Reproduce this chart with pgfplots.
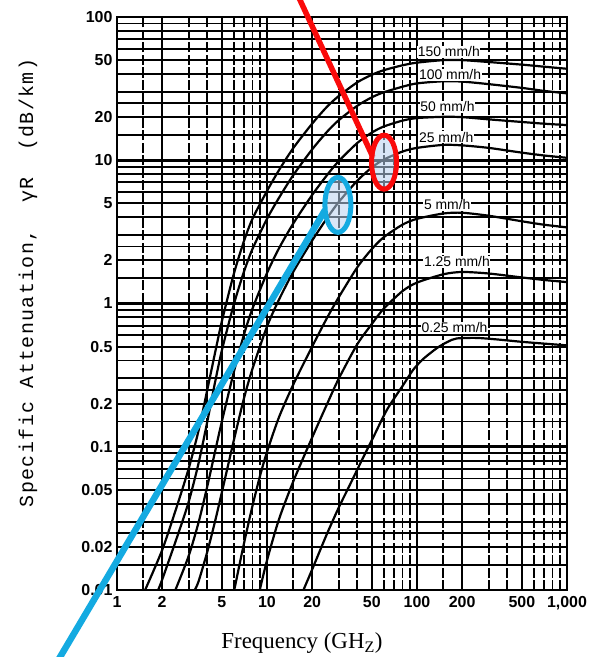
\documentclass[border=0pt]{standalone}
\usepackage{pgfplots}
\pgfplotsset{compat=1.18}
\usepackage{fontspec}
\setmainfont{Liberation Sans}
\newfontfamily\serifx{Liberation Serif}
\newfontfamily\monox[LetterSpace=7]{Liberation Mono}
\definecolor{annred}{RGB}{250,10,10}
\definecolor{annblue}{RGB}{20,170,225}
\definecolor{ellfill}{RGB}{185,210,240}
\begin{document}
\begin{tikzpicture}[crv/.style={black, line width=2.2bp, smooth, tension=0.45, mark=none}]
\begin{axis}[
 name=ax,
 xmode=log, ymode=log,
 width=450bp, height=573bp, scale only axis,
 xmin=1, xmax=1000, ymin=0.01, ymax=100,
 xtick={1,2,5,10,20,50,100,200,500,1000},
 xticklabels={1,2,5,10,20,50,100,200,500,{1,000}},
 ytick={0.01,0.02,0.05,0.1,0.2,0.5,1,2,5,10,20,50,100},
 yticklabels={0.01,0.02,0.05,0.1,0.2,0.5,1,2,5,10,20,50,100},
 minor xtick={1.5,3,4,6,7,8,9,15,30,40,60,70,80,90,150,300,400,600,700,800,900},
 minor ytick={0.015,0.025,0.03,0.04,0.06,0.07,0.08,0.09,0.15,0.25,0.3,0.4,0.6,0.7,0.8,0.9,1.5,2.5,3,4,6,7,8,9,15,25,30,40,60,70,80,90},
 extra x ticks={10,100}, extra x tick labels={},
 extra x tick style={grid=major, major grid style={black, line width=2.9bp}},
 extra y ticks={0.1,1,10}, extra y tick labels={},
 extra y tick style={grid=major, major grid style={black, line width=2.9bp}},
 grid=both,
 major grid style={black, line width=2.2bp},
 minor grid style={black, line width=1.9bp},
 minor x grid style={black, line width=1.9bp, dash pattern=on 10bp off 2.5bp},
 major tick length=0pt, minor tick length=0pt,
 axis line style={black, line width=2.8bp},
 ticklabel style={font=\fontsize{16}{16}\selectfont\bfseries},
 xticklabel style={yshift=-3bp},
 yticklabel style={xshift=-1bp},
 xlabel={\serifx\fontsize{23}{23}\selectfont Frequency (GH\textsubscript{Z})},
 xlabel style={at={(axis description cs:0.411,-0.0925)}, anchor=center},
 ylabel={\monox\fontsize{20}{20}\selectfont Specific Attenuation,\ \ γR\ \ (dB/km)},
 ylabel style={at={(axis description cs:-0.198,0.536)}, anchor=center},
 clip=false,
]
% 150 mm/h
\addplot[crv] coordinates {(1.54,0.01) (2,0.019) (2.5,0.038) (3,0.07) (3.5,0.13) (4,0.25) (4.5,0.45) (5,0.75) (6,1.6) (7,2.7) (8,3.9) (10,6.1) (12,8.5) (15,12.2) (20,18) (25,23.5) (30,28) (40,35) (50,39.5) (60,42.5) (80,46) (100,48) (150,50) (200,50) (300,48.5) (500,46.5) (700,45) (1000,43.5)};
% 100 mm/h
\addplot[crv] coordinates {(1.88,0.01) (2,0.0118) (2.5,0.023) (3,0.041) (3.5,0.077) (4,0.15) (4.5,0.28) (5,0.47) (6,0.98) (7,1.65) (8,2.4) (10,3.9) (12,5.45) (15,7.9) (20,11.9) (25,15.7) (30,19) (40,24) (50,27.5) (60,29.8) (80,32.6) (100,34.4) (150,35.6) (200,35.4) (300,34) (500,32) (700,30.5) (1000,29.3)};
% 50 mm/h
\addplot[crv] coordinates {(2.45,0.01) (3,0.0172) (3.5,0.0297) (4,0.053) (4.5,0.092) (5,0.15) (6,0.33) (7,0.6) (8,0.92) (10,1.63) (12,2.42) (15,3.63) (20,5.72) (25,7.82) (30,9.83) (40,13.2) (50,15.6) (60,17.2) (80,18.9) (100,19.7) (150,20.1) (200,20) (300,19.3) (500,18.5) (700,18) (1000,17.6)};
% 25 mm/h
\addplot[crv] coordinates {(3.3,0.01) (3.5,0.0115) (4,0.0185) (4.5,0.03) (5,0.048) (6,0.11) (7,0.215) (8,0.35) (10,0.69) (12,1.06) (15,1.67) (20,2.75) (25,3.91) (30,5.09) (40,7.2) (50,8.9) (60,10.1) (80,11.5) (100,12.2) (150,12.8) (200,12.7) (300,12.2) (500,11.3) (700,10.8) (1000,10.4)};
% 5 mm/h
\addplot[crv] coordinates {(6.05,0.01) (7,0.0208) (8,0.0386) (9,0.063) (10,0.092) (12,0.16) (15,0.273) (20,0.50) (25,0.785) (30,1.1) (40,1.79) (50,2.4) (60,2.9) (80,3.55) (100,3.9) (150,4.25) (200,4.3) (300,4.1) (500,3.75) (700,3.55) (1000,3.4)};
% 1.25 mm/h
\addplot[crv] coordinates {(8.95,0.01) (10,0.0161) (12,0.031) (15,0.0576) (20,0.116) (25,0.196) (30,0.297) (40,0.52) (50,0.72) (60,0.92) (80,1.22) (100,1.40) (150,1.60) (200,1.66) (300,1.62) (500,1.52) (700,1.46) (1000,1.41)};
% 0.25 mm/h
\addplot[crv] coordinates {(17.5,0.01) (20,0.0139) (25,0.0244) (30,0.0374) (35,0.052) (43,0.081) (50,0.111) (63,0.181) (80,0.265) (94,0.343) (110,0.41) (136,0.489) (160,0.54) (184,0.57) (250,0.575) (350,0.56) (500,0.54) (700,0.525) (1000,0.51)};

\begin{scope}[every node/.style={anchor=west, font=\fontsize{14}{14}\selectfont, fill=white, inner sep=0.6bp}]
\node at (axis cs:100,57) {150 mm/h};
\node at (axis cs:102,39.4) {100 mm/h};
\node at (axis cs:104,23.6) {50 mm/h};
\node at (axis cs:102,14.5) {25 mm/h};
\node at (axis cs:110,4.88) {5 mm/h};
\node at (axis cs:110,1.95) {1.25 mm/h};
\node at (axis cs:106,0.675) {0.25 mm/h};
\end{scope}

% annotations
\addplot[annred, line width=5.5bp, sharp plot, mark=none] coordinates {(15.7,149) (50.9,10.5)};
\draw[annred, line width=5bp, fill=ellfill, fill opacity=0.55] (axis cs:60.3,9.7) ellipse [x radius=12.5bp, y radius=27bp];
\addplot[annblue, line width=6.5bp, sharp plot, mark=none] coordinates {(0.369,0.00274) (24.4,4.5)};
\draw[annblue, line width=5bp, fill=ellfill, fill opacity=0.55] (axis cs:29.7,4.88) ellipse [x radius=13bp, y radius=27.5bp];
\end{axis}
\pgfresetboundingbox
\path ([shift={(-117bp,-67bp)}]ax.south west) rectangle ++(591bp,657bp);
\end{tikzpicture}
\end{document}
